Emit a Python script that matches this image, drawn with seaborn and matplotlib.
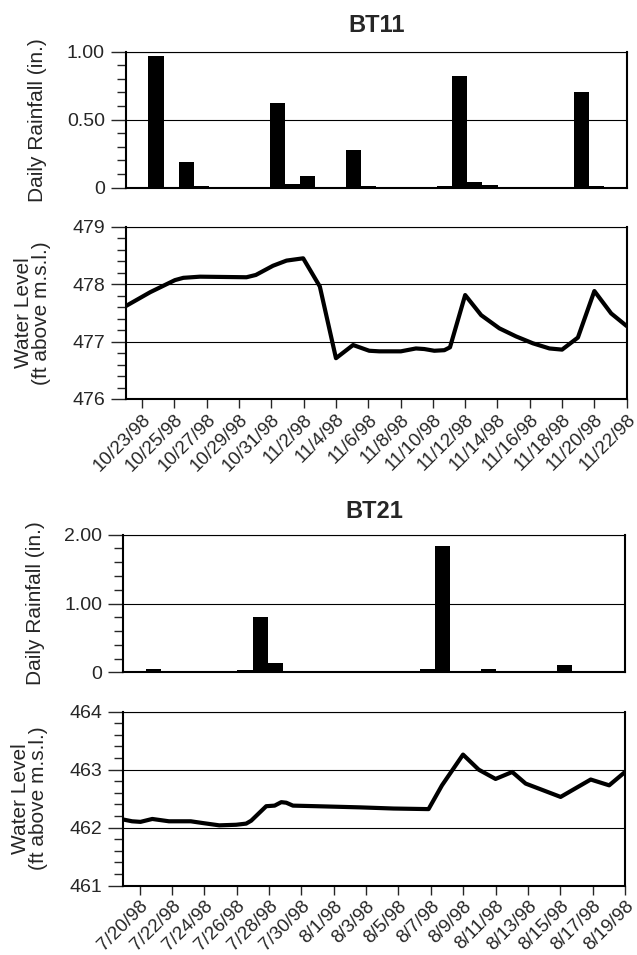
import pandas as pd
import numpy as np
import matplotlib
matplotlib.use("Agg")
import matplotlib.pyplot as plt
import seaborn as sns
from matplotlib.ticker import MultipleLocator

# --- BT11 (Oct/Nov 1998) ---
bt11_start = "1998-10-22"
bt11_rain = [0, 0, 0.97, 0, 0.19, 0.01, 0, 0, 0, 0,
             0.62, 0.025, 0.086, 0, 0, 0.28, 0.015, 0, 0, 0,
             0, 0.015, 0.82, 0.04, 0.02, 0, 0, 0, 0, 0,
             0.70, 0.015, 0, 0]
bt11_days = [0, 1.5, 3.03, 3.55, 4.58, 7.46, 8.04, 9.1, 9.94, 10.97, 12.0, 13.0,
             14.06, 15.06, 15.68, 17.02, 17.95, 18.47, 19.09, 19.71, 20.06,
             21.0, 21.99, 23.12, 24.15, 25.19, 26.22, 27.0, 27.98, 29.0, 30.04, 31.0]
bt11_level = [477.62, 477.86, 478.07, 478.11, 478.13, 478.12, 478.16, 478.32, 478.41,
              478.45, 477.96, 476.71, 476.94, 476.84, 476.83, 476.83, 476.88, 476.87,
              476.84, 476.85, 476.90, 477.81, 477.46, 477.23, 477.09, 476.97, 476.88,
              476.86, 477.07, 477.88, 477.49, 477.27]
bt11_ticks = ["10/23/98", "10/25/98", "10/27/98", "10/29/98", "10/31/98", "11/2/98",
              "11/4/98", "11/6/98", "11/8/98", "11/10/98", "11/12/98", "11/14/98",
              "11/16/98", "11/18/98", "11/20/98", "11/22/98"]

# --- BT21 (Jul/Aug 1998) ---
bt21_start = "1998-07-19"
bt21_rain = [0, 0, 0.044, 0.025, 0.025, 0, 0, 0, 0.04, 0.81,
             0.13, 0, 0, 0, 0, 0, 0, 0, 0, 0,
             0.05, 1.83, 0, 0, 0.05, 0, 0, 0, 0, 0.10,
             0, 0, 0, 0]
bt21_days = [0, 0.54, 1.06, 1.79, 2.82, 4.17, 4.9, 5.93, 6.97, 7.59, 7.9, 8.42, 8.83,
             9.35, 9.76, 10.07, 10.48, 11.93, 14.63, 16.69, 18.86, 19.69, 20.99,
             21.96, 23.0, 24.03, 24.86, 27.02, 28.88, 30.02, 31.0]
bt21_level = [462.14, 462.11, 462.10, 462.15, 462.11, 462.11, 462.08, 462.04, 462.05,
              462.07, 462.12, 462.26, 462.37, 462.38, 462.44, 462.43, 462.38, 462.37,
              462.35, 462.33, 462.32, 462.73, 463.26, 463.0, 462.84, 462.96, 462.76,
              462.53, 462.83, 462.73, 462.96]
bt21_ticks = ["7/20/98", "7/22/98", "7/24/98", "7/26/98", "7/28/98", "7/30/98",
              "8/1/98", "8/3/98", "8/5/98", "8/7/98", "8/9/98", "8/11/98",
              "8/13/98", "8/15/98", "8/17/98", "8/19/98"]

sns.set_style("ticks")
plt.rcParams["font.family"] = ["Liberation Sans", "DejaVu Sans"]
plt.rcParams["axes.edgecolor"] = "black"

fig = plt.figure(figsize=(6.37, 9.55), dpi=100)


def style_frame(ax):
    for side in ["left", "bottom", "right"]:
        ax.spines[side].set_linewidth(1.5)
    ax.spines["top"].set_linewidth(0.8)
    ax.yaxis.grid(True, which="major", color="black", linewidth=0.8)
    ax.tick_params(axis="y", which="major", length=11, width=1, labelsize=14, pad=4)
    ax.tick_params(axis="y", which="minor", length=6.5, width=1)


def rain_panel(pos, values, start, top, labels, title, pad):
    ax = fig.add_axes(pos)
    slots = pd.date_range(start, periods=len(values)).strftime("%m/%d")
    sns.barplot(x=list(slots), y=values, color="black", width=1, saturation=1,
                linewidth=0, errorbar=None, ax=ax)
    ax.set_xlim(0, len(values) - 1)
    ax.set_ylim(0, top)
    ax.set_yticks([0, top / 2, top])
    ax.set_yticklabels(labels)
    ax.yaxis.set_minor_locator(MultipleLocator(top / 10))
    ax.set_xticks([])
    ax.set_xlabel("")
    ax.set_ylabel("Daily Rainfall (in.)", fontsize=15)
    ax.yaxis.set_label_coords(-0.157, 0.5)
    ax.set_title(title, fontsize=17, fontweight="bold", pad=pad)
    style_frame(ax)
    return ax


def level_panel(pos, start, days, level, lo, ticks):
    ax = fig.add_axes(pos)
    t0 = pd.Timestamp(start)
    times = t0 + pd.to_timedelta(days, unit="D")
    sns.lineplot(x=times, y=level, color="black", linewidth=3.0, ax=ax)
    ax.set_xlim(t0, t0 + pd.Timedelta(days=31))
    ax.set_ylim(lo, lo + 3)
    ax.set_yticks([lo, lo + 1, lo + 2, lo + 3])
    ax.set_yticklabels([str(v) for v in [lo, lo + 1, lo + 2, lo + 3]])
    ax.yaxis.set_minor_locator(MultipleLocator(0.2))
    ax.set_xticks(pd.to_datetime(ticks, format="%m/%d/%y"))
    ax.set_xticklabels(ticks, rotation=45, ha="right", rotation_mode="anchor")
    ax.tick_params(axis="x", length=6.7, width=1, labelsize=13.5, pad=2)
    ax.set_xlabel("")
    ax.set_ylabel("Water Level\n(ft above m.s.l.)", fontsize=15, linespacing=0.95)
    ax.yaxis.set_label_coords(-0.15, 0.5)
    style_frame(ax)
    return ax


rain_panel([0.1973, 0.8035, 0.7865, 0.1424], bt11_rain, bt11_start, 1.0,
           ["0", "0.50", "1.00"], "BT11", 14)
level_panel([0.1978, 0.5822, 0.786, 0.1804], bt11_start, bt11_days, bt11_level,
            476, bt11_ticks)
rain_panel([0.1936, 0.2960, 0.7876, 0.1441], bt21_rain, bt21_start, 2.0,
           ["0", "1.00", "2.00"], "BT21", 12)
level_panel([0.1936, 0.0726, 0.7876, 0.1822], bt21_start, bt21_days, bt21_level,
            461, bt21_ticks)

fig.savefig("out.png", dpi=100, facecolor="white")
